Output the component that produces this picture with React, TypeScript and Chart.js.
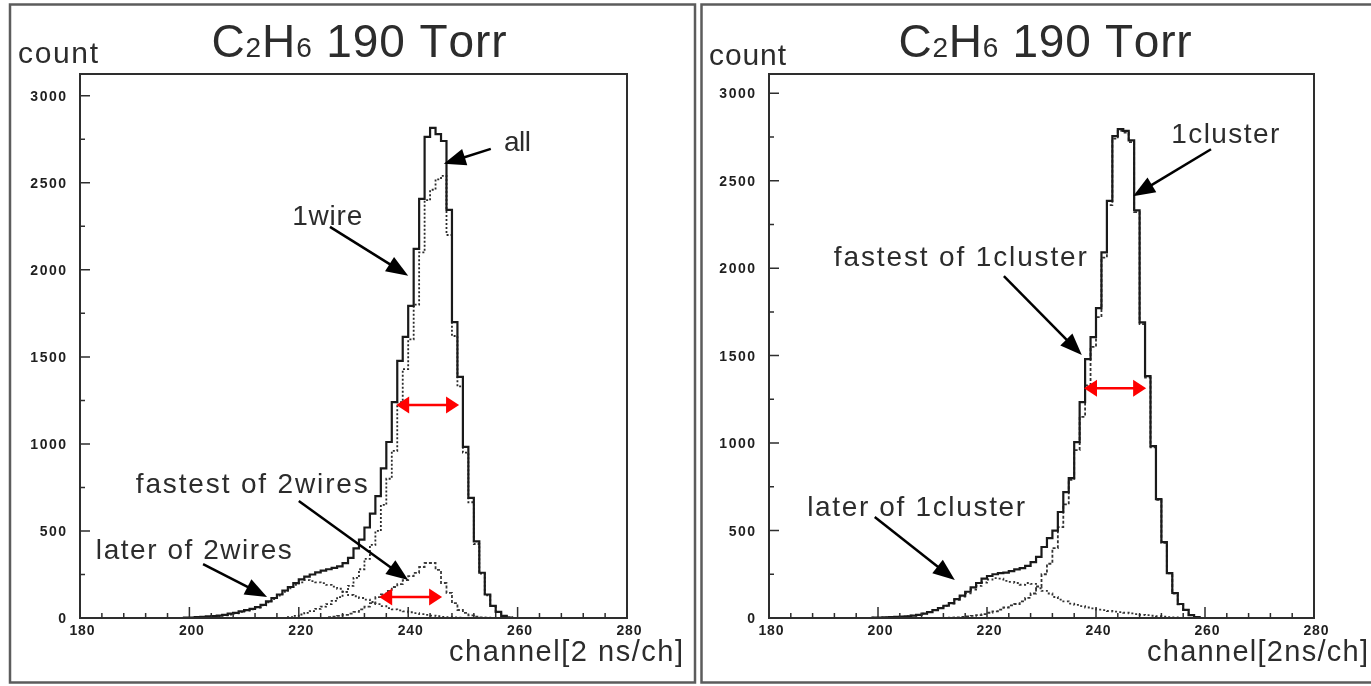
import React, { useEffect, useRef } from "react";
import { Chart, registerables } from "chart.js";

Chart.register(...registerables);

// ---------- data ----------
const channels = [
  199, 200, 201, 202, 203, 204, 205, 206, 207, 208,
  209, 210, 211, 212, 213, 214, 215, 216, 217, 218,
  219, 220, 221, 222, 223, 224, 225, 226, 227, 228,
  229, 230, 231, 232, 233, 234, 235, 236, 237, 238,
  239, 240, 241, 242, 243, 244, 245, 246, 247, 248,
  249, 250, 251, 252, 253, 254, 255, 256, 257, 258,
  259,
];

// left panel: wires
const wiresAll = [
  2, 3, 5, 7, 9, 11, 14, 18, 25, 30,
  38, 45, 52, 62, 75, 95, 115, 135, 158, 178,
  200, 222, 238, 250, 262, 272, 280, 288, 297, 315,
  345, 400, 450, 520, 600, 700, 860, 1011, 1240, 1477,
  1615, 1793, 2120, 2408, 2764, 2816, 2780, 2740, 2345, 1700,
  1385, 983, 690, 440, 260, 135, 70, 35, 12, 3,
  0,
];
const wiresOne = [
  0, 0, 0, 0, 0, 0, 0, 0, 0, 0,
  0, 0, 0, 0, 0, 0, 0, 0, 0, 5,
  12, 20, 30, 40, 52, 65, 80, 98, 120, 150,
  185, 230, 280, 340, 420, 500, 650, 800, 960, 1240,
  1430, 1600, 1800, 2100, 2400, 2460, 2520, 2540, 2200, 1620,
  1330, 950, 665, 425, 255, 130, 68, 34, 12, 3,
  0,
];
const wiresFastest = [
  0, 0, 0, 0, 0, 0, 0, 0, 0, 0,
  0, 0, 0, 0, 0, 0, 0, 0, 0, 0,
  0, 0, 0, 0, 0, 0, 5, 8, 12, 18,
  25, 35, 50, 65, 85, 120, 135, 155, 178, 195,
  218, 240, 259, 293, 316, 316, 276, 201, 144, 86,
  46, 29, 15, 8, 4, 2, 0, 0, 0, 0,
  0,
];
const wiresLater = [
  0, 2, 3, 4, 6, 8, 10, 15, 20, 27,
  35, 42, 50, 60, 72, 90, 108, 128, 150, 170,
  190, 205, 218, 212, 205, 200, 190, 180, 168, 150,
  132, 125, 115, 105, 92, 80, 68, 57, 50, 44,
  38, 33, 28, 22, 18, 14, 10, 7, 5, 3,
  2, 0, 0, 0, 0, 0, 0, 0, 0, 0,
  0,
];

// right panel: clusters
const clusterAll = [
  2, 3, 4, 5, 6, 8, 10, 14, 18, 25,
  34, 45, 57, 70, 85, 108, 128, 150, 175, 200,
  225, 240, 250, 257, 259, 268, 278, 285, 298, 320,
  350, 406, 457, 500, 606, 720, 800, 1006, 1234, 1480,
  1606, 1771, 2090, 2385, 2755, 2795, 2785, 2730, 2330, 1690,
  1383, 983, 680, 434, 257, 143, 80, 46, 17, 5,
  0,
];
const clusterFastest = [
  0, 0, 0, 0, 0, 0, 0, 0, 0, 0,
  0, 0, 0, 0, 2, 4, 6, 9, 12, 16,
  22, 30, 38, 48, 60, 72, 80, 95, 115, 140,
  180, 250, 310, 400, 520, 650, 790, 960, 1150, 1330,
  1550, 1720, 2060, 2360, 2740, 2785, 2775, 2720, 2320, 1680,
  1375, 975, 675, 430, 255, 140, 78, 45, 16, 5,
  0,
];
const clusterLater = [
  2, 3, 4, 5, 6, 8, 10, 14, 18, 25,
  34, 45, 57, 70, 83, 104, 122, 141, 163, 184,
  203, 220, 228, 225, 212, 206, 200, 190, 200, 195,
  170, 155, 140, 120, 105, 95, 82, 75, 68, 60,
  55, 48, 45, 40, 36, 34, 30, 26, 22, 18,
  16, 13, 10, 8, 5, 3, 0, 0, 0, 0,
  0,
];

const xTicks = [180, 200, 220, 240, 260, 280];
const yTicks = [0, 500, 1000, 1500, 2000, 2500, 3000];

// ---------- styling / layout ----------
const FONT = '"Liberation Sans", Arimo, Arial, Helvetica, sans-serif';
const TEXT = "#2c2c2c";

type Series = { label: string; values: number[]; color: string; width: number; dash: number[] };
type Note = { text: string; ch: number; count: number; width: number };
type Pointer = { fromCh: number; fromCount: number; toCh: number; toCount: number };
type Span = { fromCh: number; toCh: number; count: number };

interface PanelCfg {
  left: number;
  width: number;
  axisWidth: number;
  padRight: number;
  yMax: number;
  frame: [number, number, number, number];
  titleCenter: number;
  titleWidth: number;
  countX: number;
  countBaseline: number;
  countWidth: number;
  xTitle: string;
  xTitleRight: number;
  xTitleWidth: number;
  series: Series[];
  notes: Note[];
  pointers: Pointer[];
  spans: Span[];
}

const leftPanel: PanelCfg = {
  left: 0,
  width: 700,
  axisWidth: 80,
  padRight: 73,
  yMax: 3125,
  frame: [10, 4.5, 685, 678],
  titleCenter: 359,
  titleWidth: 295,
  countX: 18,
  countBaseline: 63,
  countWidth: 80,
  xTitle: "channel[2 ns/ch]",
  xTitleRight: 683,
  xTitleWidth: 234,
  series: [
    { label: "all", values: wiresAll, color: "#1a1a1a", width: 2.2, dash: [] },
    { label: "1wire", values: wiresOne, color: "#2a2a2a", width: 1.8, dash: [2, 2] },
    { label: "fastest of 2wires", values: wiresFastest, color: "#3a3a3a", width: 1.8, dash: [3, 2] },
    { label: "later of 2wires", values: wiresLater, color: "#333333", width: 1.8, dash: [2, 2.5] },
  ],
  notes: [
    { text: "all", ch: 257.5, count: 2684, width: 27 },
    { text: "1wire", ch: 218.8, count: 2259, width: 70 },
    { text: "fastest of 2wires", ch: 190.2, count: 718, width: 232 },
    { text: "later of 2wires", ch: 182.9, count: 339, width: 196 },
  ],
  pointers: [
    { fromCh: 255.1, fromCount: 2695, toCh: 246.5, toCount: 2609 },
    { fromCh: 225.7, fromCount: 2247, toCh: 240.0, toCount: 1966 },
    { fromCh: 220.0, fromCount: 672, toCh: 240.0, toCount: 218 },
    { fromCh: 202.5, fromCount: 310, toCh: 214.2, toCount: 121 },
  ],
  spans: [
    { fromCh: 237.8, toCh: 249.3, count: 1224 },
    { fromCh: 234.7, toCh: 246.2, count: 121 },
  ],
};

const rightPanel: PanelCfg = {
  left: 700,
  width: 671,
  axisWidth: 69,
  padRight: 57,
  yMax: 3110,
  frame: [1.5, 4.5, 690, 678],
  titleCenter: 345,
  titleWidth: 293,
  countX: 9,
  countBaseline: 65,
  countWidth: 77,
  xTitle: "channel[2ns/ch]",
  xTitleRight: 668,
  xTitleWidth: 221,
  series: [
    { label: "1cluster", values: clusterAll, color: "#1a1a1a", width: 2.2, dash: [] },
    { label: "fastest of 1cluster", values: clusterFastest, color: "#333333", width: 1.8, dash: [3, 2] },
    { label: "later of 1cluster", values: clusterLater, color: "#333333", width: 1.8, dash: [2, 2.5] },
  ],
  notes: [
    { text: "1cluster", ch: 253.8, count: 2714, width: 108 },
    { text: "fastest of 1cluster", ch: 191.9, count: 2011, width: 253 },
    { text: "later of 1cluster", ch: 187.0, count: 583, width: 218 },
  ],
  pointers: [
    { fromCh: 261.1, fromCount: 2680, toCh: 246.8, toCount: 2411 },
    { fromCh: 223.1, fromCount: 1954, toCh: 237.4, toCount: 1503 },
    { fromCh: 199.4, fromCount: 577, toCh: 214.1, toCount: 217 },
  ],
  spans: [{ fromCh: 237.8, toCh: 249.2, count: 1314 }],
};

// ---------- drawing helpers ----------
function drawSpaced(
  ctx: CanvasRenderingContext2D,
  text: string,
  x: number,
  y: number,
  spacing: number,
  align: "left" | "center" | "right"
) {
  const chars = Array.from(text);
  const advs = chars.map((c) => ctx.measureText(c).width);
  const total = advs.reduce((s, v) => s + v, 0) + spacing * (chars.length - 1);
  let cx = align === "left" ? x : align === "center" ? x - total / 2 : x - total;
  ctx.textAlign = "left";
  chars.forEach((c, i) => {
    ctx.fillText(c, cx, y);
    cx += advs[i] + spacing;
  });
}

function drawFit(ctx: CanvasRenderingContext2D, text: string, x: number, y: number, width: number) {
  const chars = Array.from(text);
  const advs = chars.map((c) => ctx.measureText(c).width);
  const nat = advs.reduce((s, v) => s + v, 0);
  const spacing = chars.length > 1 ? (width - nat) / (chars.length - 1) : 0;
  let cx = x;
  ctx.textAlign = "left";
  chars.forEach((c, i) => {
    ctx.fillText(c, cx, y);
    cx += advs[i] + spacing;
  });
}

function arrow(
  ctx: CanvasRenderingContext2D,
  x1: number,
  y1: number,
  x2: number,
  y2: number,
  color: string,
  lw: number,
  hl: number,
  hw: number,
  both: boolean
) {
  const a = Math.atan2(y2 - y1, x2 - x1);
  const c = Math.cos(a);
  const s = Math.sin(a);
  ctx.strokeStyle = color;
  ctx.fillStyle = color;
  ctx.lineWidth = lw;
  ctx.setLineDash([]);
  ctx.beginPath();
  ctx.moveTo(both ? x1 + hl * 0.8 * c : x1, both ? y1 + hl * 0.8 * s : y1);
  ctx.lineTo(x2 - hl * 0.8 * c, y2 - hl * 0.8 * s);
  ctx.stroke();
  const head = (tx: number, ty: number, dc: number, ds: number) => {
    ctx.beginPath();
    ctx.moveTo(tx, ty);
    ctx.lineTo(tx - hl * dc + (hw / 2) * ds, ty - hl * ds - (hw / 2) * dc);
    ctx.lineTo(tx - hl * dc - (hw / 2) * ds, ty - hl * ds + (hw / 2) * dc);
    ctx.closePath();
    ctx.fill();
  };
  head(x2, y2, c, s);
  if (both) head(x1, y1, -c, -s);
}

function drawTitle(ctx: CanvasRenderingContext2D, center: number, baseline: number, width: number) {
  const parts: { t: string; size: number }[] = [
    { t: "C", size: 46 },
    { t: "2", size: 28 },
    { t: "H", size: 46 },
    { t: "6", size: 28 },
    { t: " 190 Torr", size: 46 },
  ];
  const glyphs: { c: string; size: number; w: number }[] = [];
  parts.forEach((p) => {
    ctx.font = `${p.size}px ${FONT}`;
    Array.from(p.t).forEach((c) => glyphs.push({ c, size: p.size, w: ctx.measureText(c).width }));
  });
  const nat = glyphs.reduce((s, g) => s + g.w, 0);
  const spacing = (width - nat) / (glyphs.length - 1);
  let x = center - width / 2;
  ctx.textAlign = "left";
  glyphs.forEach((g) => {
    ctx.font = `${g.size}px ${FONT}`;
    ctx.fillText(g.c, x, baseline);
    x += g.w + spacing;
  });
}

function decorPlugin(cfg: PanelCfg) {
  return {
    id: "decor",
    beforeDraw(chart: any) {
      const ctx: CanvasRenderingContext2D = chart.ctx;
      ctx.save();
      ctx.fillStyle = "#ffffff";
      ctx.fillRect(0, 0, chart.width, chart.height);
      ctx.strokeStyle = "#5c5c5c";
      ctx.lineWidth = 2.5;
      ctx.strokeRect(cfg.frame[0], cfg.frame[1], cfg.frame[2], cfg.frame[3]);
      ctx.restore();
    },
    afterDraw(chart: any) {
      const ctx: CanvasRenderingContext2D = chart.ctx;
      const a = chart.chartArea;
      const xs = chart.scales.x;
      const ys = chart.scales.y;
      ctx.save();
      ctx.setLineDash([]);
      // plot frame
      ctx.strokeStyle = "#2e2e2e";
      ctx.lineWidth = 2;
      ctx.strokeRect(a.left, a.top, a.right - a.left, a.bottom - a.top);
      // inward ticks
      ctx.lineWidth = 1.5;
      ctx.beginPath();
      for (let v = xTicks[0]; v <= xTicks[xTicks.length - 1]; v += 4) {
        const x = xs.getPixelForValue(v);
        const len = (v - xTicks[0]) % 20 === 0 ? 11 : 5;
        ctx.moveTo(x, a.bottom);
        ctx.lineTo(x, a.bottom - len);
      }
      for (let v = 0; v <= cfg.yMax; v += 250) {
        const y = ys.getPixelForValue(v);
        const len = v % 500 === 0 ? 10 : 5;
        ctx.moveTo(a.left, y);
        ctx.lineTo(a.left + len, y);
      }
      ctx.stroke();
      // tick labels
      ctx.fillStyle = "#1f1f1f";
      ctx.font = `bold 14px ${FONT}`;
      ctx.textBaseline = "alphabetic";
      xTicks.forEach((v) => drawSpaced(ctx, String(v), xs.getPixelForValue(v) + 2, a.bottom + 17, 0.8, "center"));
      yTicks.forEach((v) => drawSpaced(ctx, String(v), a.left - 14, ys.getPixelForValue(v) + 5, 1.5, "right"));
      // titles
      ctx.fillStyle = TEXT;
      drawTitle(ctx, cfg.titleCenter, 57, cfg.titleWidth);
      ctx.font = `30px ${FONT}`;
      drawFit(ctx, "count", cfg.countX, cfg.countBaseline, cfg.countWidth);
      ctx.font = `29px ${FONT}`;
      drawFit(ctx, cfg.xTitle, cfg.xTitleRight - cfg.xTitleWidth, 661, cfg.xTitleWidth);
      // notes
      ctx.font = `28px ${FONT}`;
      ctx.fillStyle = TEXT;
      cfg.notes.forEach((n) => drawFit(ctx, n.text, xs.getPixelForValue(n.ch), ys.getPixelForValue(n.count), n.width));
      cfg.pointers.forEach((p) =>
        arrow(
          ctx,
          xs.getPixelForValue(p.fromCh),
          ys.getPixelForValue(p.fromCount),
          xs.getPixelForValue(p.toCh),
          ys.getPixelForValue(p.toCount),
          "#000000",
          2.5,
          22,
          17,
          false
        )
      );
      cfg.spans.forEach((s) =>
        arrow(
          ctx,
          xs.getPixelForValue(s.fromCh),
          ys.getPixelForValue(s.count),
          xs.getPixelForValue(s.toCh),
          ys.getPixelForValue(s.count),
          "#ff0000",
          2.5,
          13,
          17,
          true
        )
      );
      ctx.restore();
    },
  };
}

function stepPoints(values: number[]) {
  const pts = [{ x: channels[0], y: 0 }];
  channels.forEach((c, i) => pts.push({ x: c, y: values[i] }));
  pts.push({ x: channels[channels.length - 1] + 1, y: 0 });
  return pts;
}

function Panel({ cfg }: { cfg: PanelCfg }) {
  const ref = useRef<HTMLCanvasElement>(null);
  useEffect(() => {
    if (!ref.current) return;
    const chart = new Chart(ref.current, {
      type: "line",
      data: {
        datasets: cfg.series.map((s) => ({
          label: s.label,
          data: stepPoints(s.values),
          borderColor: s.color,
          borderWidth: s.width,
          borderDash: s.dash,
          stepped: "before" as const,
          fill: false,
          pointRadius: 0,
          tension: 0,
        })),
      },
      options: {
        animation: false,
        responsive: false,
        maintainAspectRatio: false,
        layout: { padding: { left: 0, right: cfg.padRight, top: 74, bottom: 0 } },
        plugins: {
          legend: { display: false },
          tooltip: { enabled: false },
          title: { display: false },
        },
        scales: {
          x: {
            type: "linear",
            min: xTicks[0],
            max: xTicks[xTicks.length - 1],
            ticks: { display: false },
            grid: { display: false },
            border: { display: false },
            afterFit: (s: any) => {
              s.height = 68;
            },
          },
          y: {
            type: "linear",
            min: 0,
            max: cfg.yMax,
            ticks: { display: false },
            grid: { display: false },
            border: { display: false },
            afterFit: (s: any) => {
              s.width = cfg.axisWidth;
            },
          },
        },
      } as any,
      plugins: [decorPlugin(cfg)],
    });
    return () => chart.destroy();
  }, [cfg]);
  return (
    <canvas
      ref={ref}
      width={cfg.width}
      height={686}
      style={{ position: "absolute", left: cfg.left, top: 0, width: cfg.width, height: 686 }}
    />
  );
}

export default function App() {
  return (
    <div
      style={{
        position: "absolute",
        left: 0,
        top: 0,
        width: 1371,
        height: 686,
        background: "#ffffff",
        overflow: "hidden",
      }}
    >
      <Panel cfg={leftPanel} />
      <Panel cfg={rightPanel} />
    </div>
  );
}
